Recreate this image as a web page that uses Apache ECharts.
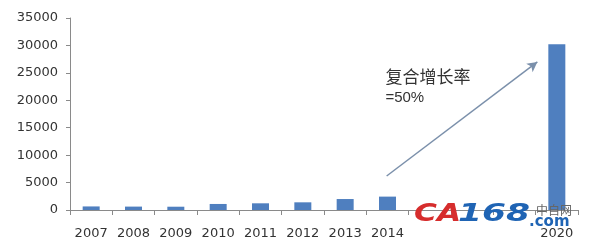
<!DOCTYPE html>
<html>
<head>
<meta charset="utf-8">
<script src="https://cdn.jsdelivr.net/npm/echarts@6/dist/echarts.min.js"></script>
<style>
html,body{margin:0;padding:0;background:#fff;}
#chart{width:597px;height:247px;}
</style>
</head>
<body>
<div id="chart"></div>
<script>
const categories = ['2007','2008','2009','2010','2011','2012','2013','2014','','','','2020'];
const values = [650, 620, 600, 1100, 1220, 1400, 2000, 2440, null, null, null, 30200];
const yTicks = [0, 5000, 10000, 15000, 20000, 25000, 30000, 35000];
// annotation positions on a continuous copy of the category axis (category i spans i..i+1)
const arrowFrom = [7.48, 6200];
const arrowTo = [11.04, 27000];
const noteTitle = '复合增长率';
const noteValue = '=50%';
const noteTitleAt = [7.45, 24250];
const noteValueAt = [7.45, 20400];

const chart = echarts.init(document.getElementById('chart'));
const axisColor = '#8a8a8a';
const labelFont = {color:'#333', fontFamily:'DejaVu Sans', fontSize:13};
chart.setOption({
  animation:false,
  backgroundColor:'#fff',
  grid:{left:70, right:19, top:18, bottom:37},
  xAxis:[{
    type:'category', data:categories,
    axisLine:{lineStyle:{color:axisColor}},
    axisTick:{show:true, length:5, lineStyle:{color:axisColor}},
    axisLabel:Object.assign({margin:17, interval:0}, labelFont)
  },{
    type:'value', min:0, max:categories.length, show:false
  }],
  yAxis:{
    type:'value', min:yTicks[0], max:yTicks[yTicks.length-1], interval:5000,
    axisLine:{show:true, lineStyle:{color:axisColor}},
    axisTick:{show:true, length:4, lineStyle:{color:axisColor}},
    splitLine:{show:false},
    axisLabel:Object.assign({margin:12, formatter:v => String(v)}, labelFont)
  },
  series:[{
    type:'bar', data:values, barWidth:17,
    itemStyle:{color:'#4f7fbf'}
  },{
    type:'line', xAxisIndex:1, data:[], silent:true,
    markLine:{
      silent:true, symbol:['none','arrow'], symbolSize:[8,10],
      lineStyle:{color:'#7b90ab', width:1.5, type:'solid'},
      label:{show:false},
      data:[[{coord:arrowFrom},{coord:arrowTo}]]
    },
    markPoint:{
      silent:true,
      data:[
        {coord:noteTitleAt, symbol:'circle', symbolSize:0,
         label:{show:true, position:'right', distance:0, formatter:noteTitle,
                color:'#333', fontSize:17, fontFamily:'Noto Sans CJK SC'}},
        {coord:noteValueAt, symbol:'circle', symbolSize:0,
         label:{show:true, position:'right', distance:0, formatter:noteValue,
                color:'#333', fontSize:15, fontFamily:'Liberation Sans'}}
      ]
    }
  }],
  graphic:[
    {type:'text', left:414, top:202, z:100, scaleX:1.25, style:{text:'CA', fill:'#d62d2d', font:'italic bold 25px "DejaVu Sans"'}},
    {type:'text', left:458, top:202, z:100, scaleX:1.38, style:{text:'168', fill:'#1f64b4', font:'italic bold 25px "DejaVu Sans"'}},
    {type:'text', left:536, top:204, z:100, style:{text:'中自网', fill:'#666', font:'12px "Noto Sans CJK SC"'}},
    {type:'text', left:529, top:215, z:100, style:{text:'.com', fill:'#1f64b4', font:'bold 15px "DejaVu Sans"'}}
  ]
});
</script>
</body>
</html>
